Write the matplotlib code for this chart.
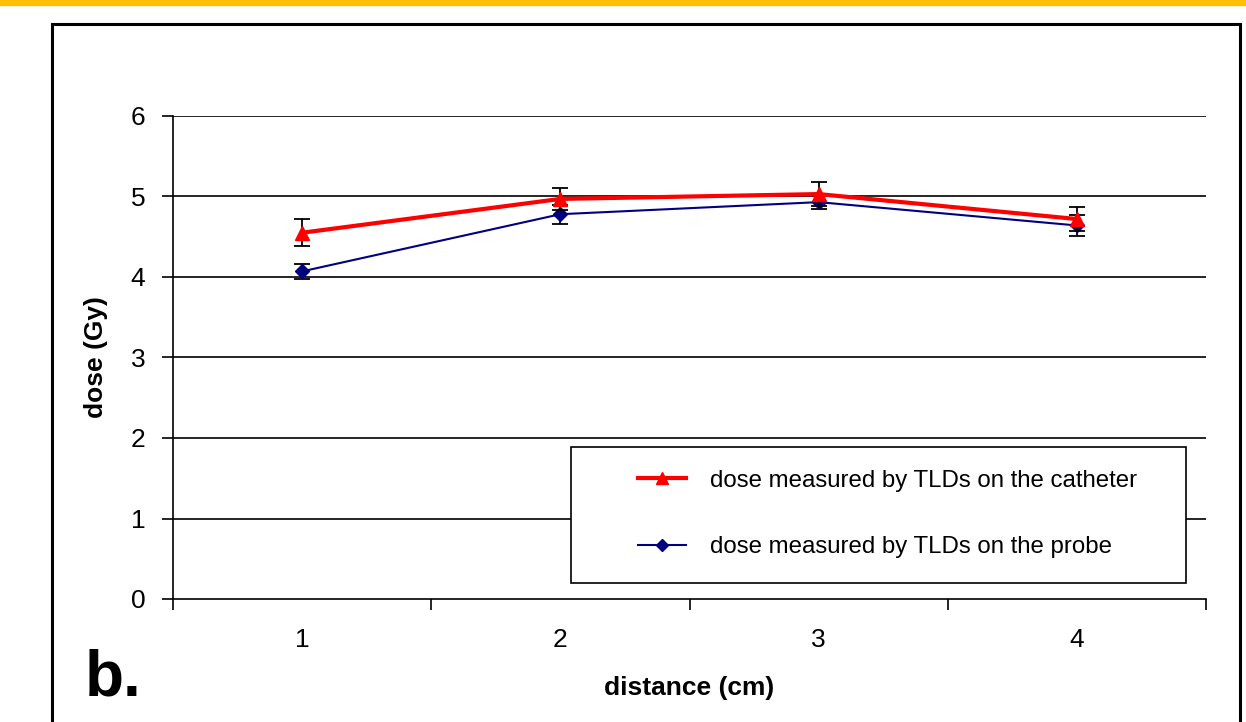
import matplotlib
matplotlib.use('Agg')
import matplotlib.pyplot as plt
from matplotlib.patches import Rectangle
from matplotlib.lines import Line2D

plt.rcParams['font.family'] = ['Liberation Sans', 'DejaVu Sans']

# data
distance = [1, 2, 3, 4]
catheter_dose = [4.55, 4.97, 5.03, 4.72]
catheter_err = [0.165, 0.14, 0.15, 0.15]
probe_dose = [4.07, 4.78, 4.93, 4.64]
probe_err = [0.09, 0.12, 0.09, 0.13]
yticks = [0, 1, 2, 3, 4, 5, 6]
labels = ['dose measured by TLDs on the catheter', 'dose measured by TLDs on the probe']

W, H = 1246, 722
fig = plt.figure(figsize=(W / 100, H / 100), dpi=100)

# yellow band and frame of the slide
fig.patches.append(Rectangle((0, 1 - 5 / H), 1, 5 / H, transform=fig.transFigure,
                             color='#FFC000', zorder=0))
fig.patches.append(Rectangle((52 / W, -0.05), (1240 - 52) / W, 1.05 - 24 / H,
                             transform=fig.transFigure, fill=False,
                             edgecolor='black', linewidth=2.2, zorder=1))

x0, x1, y0, y1 = 173, 1206, 116, 599
ax = fig.add_axes([x0 / W, 1 - y1 / H, (x1 - x0) / W, (y1 - y0) / H])

def ax_x(px):
    return (px - x0) / (x1 - x0)

def ax_y(py):
    return (y1 - py) / (y1 - y0)

for y in yticks[1:]:
    ax.axhline(y, color='black', linewidth=1.2, zorder=1)

ax.errorbar(distance, catheter_dose, yerr=catheter_err, color='red', linewidth=3,
            marker='^', markersize=10, ecolor='black', elinewidth=1.3, capsize=6,
            capthick=1.3, zorder=4)
ax.errorbar(distance, probe_dose, yerr=probe_err, color='#000080', linewidth=1.5,
            marker='D', markersize=7, ecolor='black', elinewidth=1.3, capsize=6,
            capthick=1.3, zorder=3)

ax.set_xlim(0.5, 4.5)
ax.set_ylim(0, 6)
ax.set_yticks(yticks)
ax.set_xticks(distance)
ax.set_xticks([0.5, 1.5, 2.5, 3.5, 4.5], minor=True)
ax.tick_params(axis='x', which='major', length=0, pad=21, labelsize=19)
ax.tick_params(axis='x', which='minor', length=8, width=1.2, direction='out')
ax.tick_params(axis='y', length=8, width=1.2, direction='out', labelsize=19, pad=12)
ax.spines['top'].set_visible(False)
ax.spines['right'].set_visible(False)
ax.spines['left'].set_linewidth(1.2)
ax.spines['bottom'].set_linewidth(1.2)

ax.set_ylabel('dose (Gy)', fontsize=19, fontweight='bold', labelpad=16)
ax.set_xlabel('distance (cm)', fontsize=19, fontweight='bold', labelpad=17)

# legend box
ax.add_patch(Rectangle((ax_x(571), ax_y(583)), ax_x(1186) - ax_x(571), ax_y(447) - ax_y(583),
                       transform=ax.transAxes, facecolor='white', edgecolor='black',
                       linewidth=1.2, zorder=5))
handles = [Line2D([], [], color='red', linewidth=3, marker='^', markersize=9),
           Line2D([], [], color='#000080', linewidth=1.5, marker='D', markersize=6)]
leg = ax.legend(handles, labels, loc='center left',
                bbox_to_anchor=(ax_x(638), ax_y(514)), fontsize=17.3, frameon=False,
                borderpad=0, borderaxespad=0, labelspacing=1.85, handlelength=2.0,
                handletextpad=1.0)
leg.set_zorder(6)

fig.text(85 / W, 1 - 695 / H, 'b.', fontsize=46, fontweight='bold', ha='left', va='baseline')

fig.savefig('out.png', dpi=100)
